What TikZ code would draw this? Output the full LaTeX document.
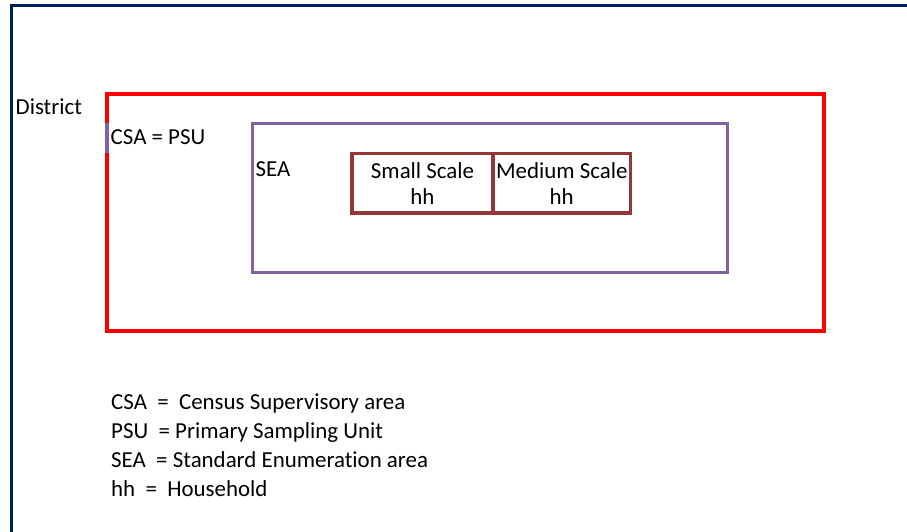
\documentclass[tikz,border=0pt]{standalone}
\usepackage{fontspec}
\setmainfont{Carlito}[Ligatures=NoCommon]
\definecolor{frameblue}{HTML}{002060}
\definecolor{csapurple}{HTML}{8064A2}
\definecolor{hhbrown}{HTML}{953735}
\tikzset{
  label/.style={anchor=base west, inner sep=0pt, font=\fontsize{22.9}{26}\selectfont},
  hhbox/.style={draw=hhbrown, line width=3.5pt, inner sep=0pt, align=center,
                minimum height=59.3pt, font=\fontsize{22.9}{25.5}\selectfont},
}
\begin{document}
\begin{tikzpicture}[x=1pt, y=-1pt]
  \useasboundingbox (0,0) rectangle (907,532);
  % outer frame (top and left edges)
  \coordinate (ftr) at (907,6);
  \coordinate (ftl) at (11.3,6);
  \coordinate (fbl) at (11.3,532);
  \draw[frameblue, line width=3pt] (ftr) -- (ftl) -- (fbl);
  % district
  \node[draw=red, line width=4pt, minimum width=717pt, minimum height=236.5pt,
        inner sep=0pt] (district) at (465.5,212.75) {};
  % CSA marker on the district edge
  \coordinate (csatop) at (107,123);
  \coordinate (csabot) at (107,153);
  \draw[csapurple, line width=4pt] (csatop) -- (csabot);
  % SEA
  \node[draw=csapurple, line width=3pt, minimum width=475pt, minimum height=148pt,
        inner sep=0pt] (sea) at (489.5,198) {};
  % household boxes
  \node[hhbox, minimum width=141pt] (small) at (422.5,183.35) {Small Scale\\hh};
  \node[hhbox, minimum width=137.5pt] (medium) at (561.75,183.35) {Medium Scale\\hh};
  % labels
  \node[label] (tdistrict) at (15.5,115) {District};
  \node[label] (tcsa) at (110.5,145) {CSA = PSU};
  \node[label] (tsea) at (255.5,176) {SEA};
  % legend
  \node[label] (l1) at (111,409) {CSA\ \ =\ \ Census Supervisory area};
  \node[label] (l2) at (111,438.3) {PSU\ \ = Primary Sampling Unit};
  \node[label] (l3) at (111,467.5) {SEA\ \ = Standard Enumeration area};
  \node[label] (l4) at (111,496.7) {hh\ \ =\ \ Household};
\end{tikzpicture}
\end{document}
